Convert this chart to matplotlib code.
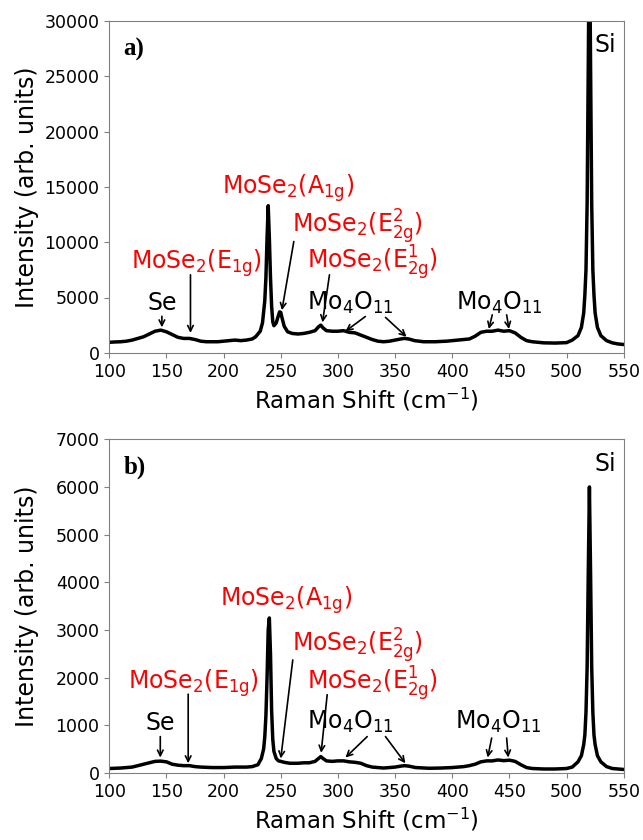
import matplotlib
matplotlib.use("Agg")
from matplotlib import pyplot as plt

# ---- data (Raman shift in cm^-1, intensity in arb. units)
shift_a = [100, 105, 110, 115, 120, 125, 130, 135, 140, 145, 150, 155, 160, 165, 170,
           175, 180, 185, 190, 195, 200, 205, 210, 215, 220, 225, 228, 230, 232, 234,
           236, 237, 238, 239, 240, 241, 242, 243, 244, 246, 248, 249, 250, 251, 253,
           256, 260, 265, 270, 275, 280, 283, 285, 287, 290, 295, 300, 305, 310, 315,
           320, 325, 330, 335, 340, 345, 350, 355, 358, 362, 367, 375, 385, 395, 405,
           415, 420, 425, 430, 435, 440, 445, 450, 455, 460, 465, 470, 480, 490, 495,
           500, 505, 510, 513, 515, 516, 517, 518, 519, 520, 521, 522, 523, 524, 525,
           527, 530, 535, 540, 545, 550]
intensity_a = [950, 980, 1000, 1050, 1150, 1300, 1450, 1700, 1950, 2050, 1900, 1650, 1400, 1300, 1300,
               1200, 1050, 1000, 1000, 1000, 1050, 1100, 1150, 1100, 1150, 1250, 1450, 1700, 1950, 2700,
               4700, 6800, 10400, 13300, 10400, 6800, 4200, 2800, 2450, 2700, 3400, 3700, 3650, 3200, 2400,
               1900, 1750, 1700, 1750, 1850, 2000, 2350, 2500, 2250, 2000, 1950, 1950, 2000, 1850, 1800,
               1600, 1400, 1200, 1050, 1000, 1050, 1150, 1250, 1300, 1250, 1100, 1000, 1000, 1050, 1150,
               1250, 1500, 1850, 1950, 1950, 2050, 1950, 2000, 1800, 1400, 1100, 1000, 900, 880, 900,
               920, 1150, 1550, 2300, 3600, 5200, 7500, 13500, 26000, 39500, 26000, 13500, 7500, 5200, 3600,
               2300, 1550, 1100, 900, 800, 750]

shift_b = [100, 110, 120, 125, 130, 135, 140, 145, 150, 155, 160, 165, 170, 175, 180,
           190, 200, 210, 220, 225, 230, 233, 235, 236, 237, 238, 239, 240, 241, 242,
           243, 244, 246, 248, 250, 253, 258, 265, 270, 275, 280, 283, 285, 287, 290,
           295, 300, 305, 310, 315, 320, 325, 330, 340, 350, 355, 358, 362, 368, 380,
           390, 400, 410, 415, 420, 425, 430, 435, 440, 445, 450, 455, 460, 465, 470,
           480, 490, 500, 505, 510, 513, 515, 516, 517, 518, 519, 520, 521, 522, 523,
           524, 525, 527, 530, 535, 540, 550]
intensity_b = [90, 100, 120, 150, 180, 210, 240, 245, 230, 180, 160, 150, 150, 130, 120,
               110, 110, 120, 120, 130, 170, 300, 500, 750, 1200, 2000, 3000, 3250, 2500, 1300,
               700, 450, 300, 250, 240, 220, 200, 200, 210, 210, 240, 300, 340, 300, 250,
               240, 250, 250, 230, 220, 200, 150, 120, 100, 120, 140, 150, 140, 110, 95,
               100, 110, 130, 150, 180, 230, 250, 250, 270, 255, 265, 240, 170, 110, 90,
               80, 80, 90, 120, 230, 360, 590, 790, 1270, 2220, 4200, 6000, 4200, 2220, 1270,
               790, 590, 360, 230, 130, 90, 70]

x_ticks = [100, 150, 200, 250, 300, 350, 400, 450, 500, 550]
y_ticks_a = [0, 5000, 10000, 15000, 20000, 25000, 30000]
y_ticks_b = [0, 1000, 2000, 3000, 4000, 5000, 6000, 7000]

# label text, colour, x, y of text, arrow (tail, head) pairs
E1G = r"MoSe$_2$(E$_{\mathrm{1g}}$)"
A1G = r"MoSe$_2$(A$_{\mathrm{1g}}$)"
E2G2 = r"MoSe$_2$(E$_{\mathrm{2g}}^{2}$)"
E2G1 = r"MoSe$_2$(E$_{\mathrm{2g}}^{1}$)"
MO4O11 = r"Mo$_4$O$_{11}$"

labels_a = {
    "Se": ("Se", "black", 146, 4500, [((146, 3300), (146, 2300))]),
    "E1g": (E1G, "red", 176.6, 8150, [((171, 7050), (171, 1800))]),
    "A1g": (A1G, "red", 256.5, 14900, []),
    "E2g2": (E2G2, "red", 317.5, 11450, [((261.4, 10060), (251, 3850))]),
    "E2g1": (E2G1, "red", 330.7, 8150, [((292.6, 7050), (286.5, 2750))]),
    "Mo1": (MO4O11, "black", 310.6, 4550, [((324, 3280), (306.6, 1950)),
                                           ((341.6, 3200), (360, 1450))]),
    "Mo2": (MO4O11, "black", 441, 4550, [((435, 3430), (432, 2150)),
                                         ((447.6, 3430), (449.6, 2150))]),
}
labels_b = {
    "Se": ("Se", "black", 144.6, 1040, [((144.6, 760), (144.6, 320))]),
    "E1g": (E1G, "red", 174, 1880, [((169, 1650), (169, 200))]),
    "A1g": (A1G, "red", 255, 3630, []),
    "E2g2": (E2G2, "red", 317.5, 2660, [((260.5, 2370), (250, 300))]),
    "E2g1": (E2G1, "red", 330.7, 1880, [((290.6, 1640), (285.3, 420))]),
    "Mo1": (MO4O11, "black", 310.6, 1075, [((325.6, 760), (306.6, 320)),
                                           ((341.6, 760), (359, 200))]),
    "Mo2": (MO4O11, "black", 440, 1060, [((434.5, 730), (431, 320)),
                                         ((447.6, 730), (449, 320))]),
}


def draw_panel(ax, shift, intensity, yticks, labels, si_y, tag):
    ax.plot(shift, intensity, color="black", lw=2.5, solid_joinstyle="round")
    ax.set_xlim(100, 550)
    ax.set_ylim(yticks[0], yticks[-1])
    ax.set_xticks(x_ticks)
    ax.set_yticks(yticks)
    ax.tick_params(labelsize=12.5, color="gray")
    for spine in ax.spines.values():
        spine.set_color("gray")
    ax.set_xlabel(r"Raman Shift (cm$^{-1}$)", fontsize=16.5)
    ax.set_ylabel("Intensity (arb. units)", fontsize=17)
    ax.yaxis.set_label_coords(-0.136, 0.5)

    for key in labels:
        text, color, tx, ty, arrows = labels[key]
        ax.text(tx, ty, text, color=color, fontsize=17, ha="center", va="center")
        for tail, head in arrows:
            ax.annotate("", xy=head, xytext=tail,
                        arrowprops=dict(arrowstyle="->", color="black", lw=1.2,
                                        shrinkA=0, shrinkB=0))

    ax.text(524.5, si_y, "Si", fontsize=17, ha="left", va="center")
    ax.text(0.028, 0.915, tag, transform=ax.transAxes, fontsize=18,
            fontweight="bold", family="Liberation Serif", ha="left", va="center")


fig = plt.figure(figsize=(6.43, 8.4), dpi=100)
ax_a = fig.add_axes([0.170, 0.580, 0.800, 0.395])
ax_b = fig.add_axes([0.170, 0.080, 0.800, 0.397])

draw_panel(ax_a, shift_a, intensity_a, y_ticks_a, labels_a, 27800, "a)")
draw_panel(ax_b, shift_b, intensity_b, y_ticks_b, labels_b, 6480, "b)")

fig.savefig("out.png", dpi=100)
